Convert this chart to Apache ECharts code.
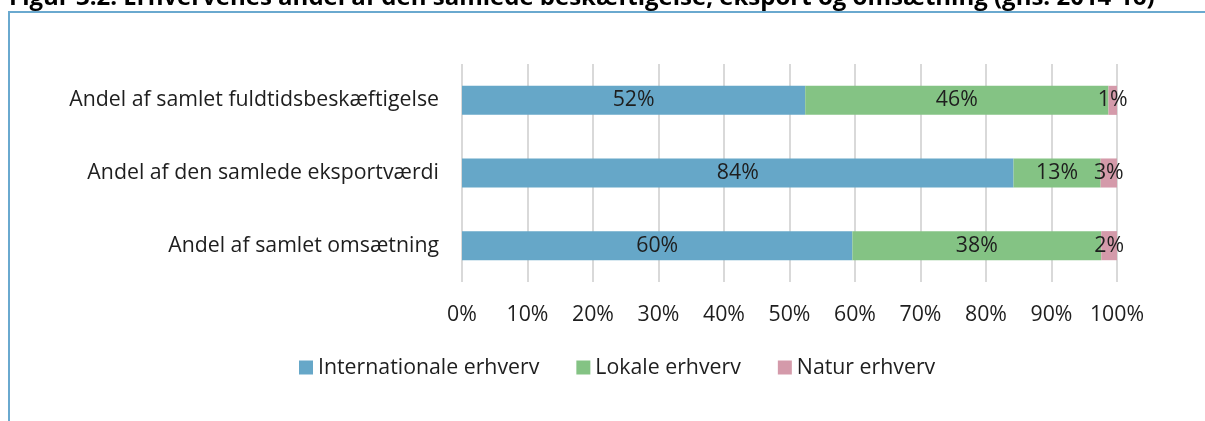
<!DOCTYPE html>
<html>
<head>
<meta charset="utf-8">
<script src="https://cdn.jsdelivr.net/npm/echarts@6/dist/echarts.min.js"></script>
<style>
  html, body { margin: 0; padding: 0; background: #fff; }
  #main { width: 1205px; height: 421px; }
</style>
</head>
<body>
<div id="main"></div>
<script>
var myChart = echarts.init(document.getElementById('main'));

// kategorier (oppefra og ned)
var categories = [
    'Andel af samlet fuldtidsbeskæftigelse',
    'Andel af den samlede eksportværdi',
    'Andel af samlet omsætning'
];
var seriesNames = ['Internationale erhverv', 'Lokale erhverv', 'Natur erhverv'];
// andele i procent
var internationale = [52.4, 84.2, 59.6];
var lokale = [46.3, 13.3, 38.0];
var natur = [1.3, 2.5, 2.4];
var xTicks = [0, 10, 20, 30, 40, 50, 60, 70, 80, 90, 100];

var colors = ['#66a7c8', '#84c384', '#d49aaa'];
var font = '"Open Sans", "Noto Sans", sans-serif';
var fs = 21.3;

function makeSeries(name, values, color) {
    return {
        name: name,
        type: 'bar',
        stack: 'total',
        barWidth: '40%',
        data: values,
        itemStyle: { color: color },
        label: {
            show: true,
            position: 'inside',
            fontFamily: font,
            fontSize: fs,
            color: '#1e1e1e',
            formatter: function (p) {
                return Math.round(p.value) + '%';
            }
        }
    };
}

var option = {
    animation: false,
    backgroundColor: '#fff',
    graphic: [
        {
            type: 'text',
            left: 9,
            top: -14,
            style: {
                text: 'Figur 3.2: Erhvervenes andel af den samlede beskæftigelse, eksport og omsætning (gns. 2014-16)',
                font: 'bold 24px ' + font,
                fill: '#000'
            }
        },
        {
            type: 'rect',
            shape: { x: 9, y: 12, width: 1400, height: 600 },
            style: { fill: 'none', stroke: '#6aa9cf', lineWidth: 2 }
        }
    ],
    legend: {
        left: 294,
        top: 352,
        icon: 'rect',
        itemWidth: 14,
        itemHeight: 14,
        itemGap: 37,
        textStyle: { fontFamily: font, fontSize: fs, color: '#1e1e1e' },
        data: seriesNames
    },
    grid: {
        left: 462,
        right: 88,
        top: 64,
        bottom: 139
    },
    xAxis: {
        type: 'value',
        min: xTicks[0],
        max: xTicks[xTicks.length - 1],
        interval: 10,
        axisLine: { show: false },
        axisTick: { show: false },
        axisLabel: {
            margin: 22,
            fontFamily: font,
            fontSize: fs,
            color: '#1e1e1e',
            formatter: '{value}%'
        },
        splitLine: { lineStyle: { color: '#d9d9d9', width: 2 } }
    },
    yAxis: {
        type: 'category',
        inverse: true,
        data: categories,
        axisLine: { show: false },
        axisTick: { show: false },
        axisLabel: {
            margin: 23,
            fontFamily: font,
            fontSize: fs,
            color: '#1e1e1e'
        }
    },
    series: [
        makeSeries(seriesNames[0], internationale, colors[0]),
        makeSeries(seriesNames[1], lokale, colors[1]),
        makeSeries(seriesNames[2], natur, colors[2])
    ]
};

myChart.setOption(option);
</script>
</body>
</html>
